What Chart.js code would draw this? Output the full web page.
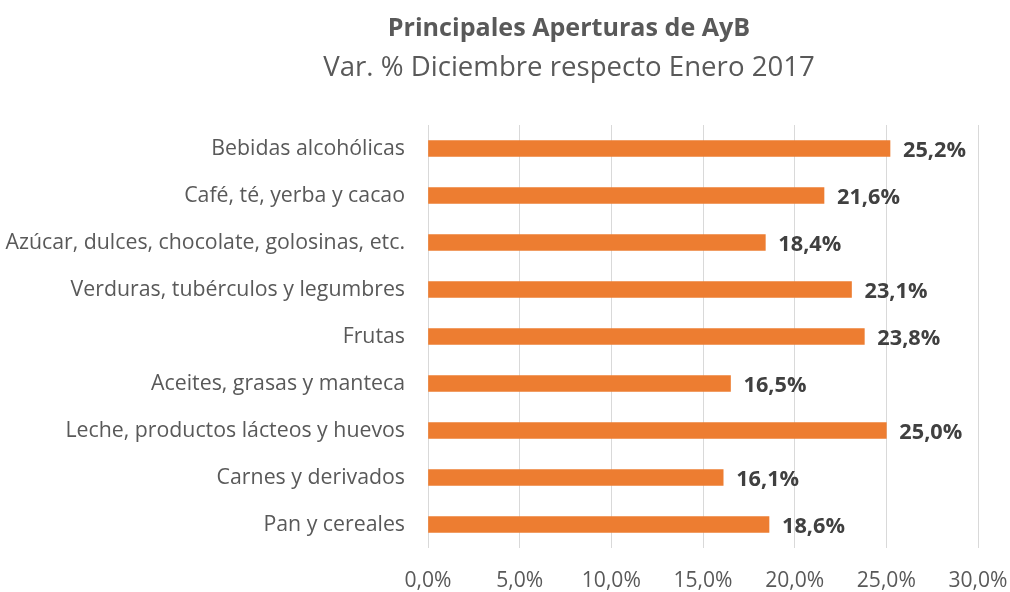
<!DOCTYPE html>
<html>
<head>
<meta charset="utf-8">
<script src="https://cdn.jsdelivr.net/npm/chart.js@4"></script>
<style>
html,body{margin:0;padding:0;background:#fff;}
#wrap{width:1010px;height:592px;}
</style>
</head>
<body>
<div id="wrap"><canvas id="c" width="1010" height="592"></canvas></div>
<script>
const categories = [
  "Bebidas alcohólicas",
  "Café, té, yerba y cacao",
  "Azúcar, dulces, chocolate, golosinas, etc.",
  "Verduras, tubérculos y legumbres",
  "Frutas",
  "Aceites, grasas y manteca",
  "Leche, productos lácteos y huevos",
  "Carnes y derivados",
  "Pan y cereales"
];
const values = [25.2, 21.6, 18.4, 23.1, 23.8, 16.5, 25.0, 16.1, 18.6];
const xTicks = [0, 5, 10, 15, 20, 25, 30];
const titleText = "Principales Aperturas de AyB";
const subtitleText = "Var. % Diciembre respecto Enero 2017";

const FONT = "Open Sans";
const fmt = v => v.toFixed(1).replace('.', ',') + '%';

// font sizes fitted so text widths match the reference layout
const mctx = document.createElement('canvas').getContext('2d');
function fitSize(text, target, weight) {
  mctx.font = weight + ' 100px "' + FONT + '"';
  return Math.round(100 * target / mctx.measureText(text).width * 10) / 10;
}
const catSize = fitSize(categories[2], 400, 'normal');
const tickSize = fitSize('0,0%', 47, 'normal');
const valSize = fitSize('25,2%', 63, 'bold');
const titleSize = fitSize(titleText, 362, 'bold');
const subSize = fitSize(subtitleText, 491, 'normal');

const AREA_TOP = 125, AREA_BOTTOM = 548, LEFT = 428, RIGHT_PAD = 32, TITLE_LEFT = 160;
const MID = 0.07; // cap-centre vs 'middle' baseline offset (em)
const titleLH = titleSize * 1.2, subLH = subSize * 1.2, tickLH = tickSize * 1.2;
const titleC = 27.5 + MID * titleSize;
const subC = 66 + MID * subSize;
const titlePadTop = titleC - titleLH / 2;
const subPadTop = subC - subLH / 2 - (titleC + titleLH / 2);
const subPadBottom = AREA_TOP - (subC + subLH / 2);
const xTickLen = (579.5 + MID * tickSize) - AREA_BOTTOM - tickLH / 2;
const bottomPad = 592 - (AREA_BOTTOM + xTickLen + tickLH);

const labelPlugin = {
  id: 'valueLabels',
  afterLayout(chart) {
    // centre the title block like the reference (over x 160..978)
    chart.boxes.forEach(b => {
      if (b.options && typeof b.options.text === 'string' && b.position === 'top') {
        b.left = TITLE_LEFT;
      }
    });
  },
  afterDatasetsDraw(chart) {
    const ctx = chart.ctx;
    const meta = chart.getDatasetMeta(0);
    ctx.save();
    ctx.font = 'bold ' + valSize + 'px "' + FONT + '"';
    ctx.fillStyle = '#404040';
    ctx.textAlign = 'left';
    ctx.textBaseline = 'middle';
    meta.data.forEach((bar, i) => {
      ctx.fillText(fmt(values[i]), bar.x + 13, bar.y + 0.5 + MID * valSize);
    });
    ctx.restore();
  }
};

new Chart(document.getElementById('c'), {
  type: 'bar',
  data: {
    labels: categories,
    datasets: [{
      data: values,
      backgroundColor: '#ED7D31',
      borderWidth: 0,
      barThickness: 16
    }]
  },
  options: {
    indexAxis: 'y',
    responsive: false,
    animation: false,
    layout: { padding: { left: 0, right: RIGHT_PAD, top: 0, bottom: bottomPad } },
    plugins: {
      legend: { display: false },
      tooltip: { enabled: false },
      title: {
        display: true,
        text: titleText,
        color: '#595959',
        font: { family: FONT, size: titleSize, weight: 'bold', lineHeight: 1.2 },
        padding: { top: titlePadTop, bottom: 0 }
      },
      subtitle: {
        display: true,
        text: subtitleText,
        color: '#595959',
        font: { family: FONT, size: subSize, weight: 'normal', lineHeight: 1.2 },
        padding: { top: subPadTop, bottom: subPadBottom }
      }
    },
    scales: {
      x: {
        type: 'linear',
        min: 0,
        max: 30,
        afterBuildTicks(scale) { scale.ticks = xTicks.map(v => ({ value: v })); },
        grid: { color: '#d9d9d9', lineWidth: 1, drawTicks: true, tickLength: xTickLen, tickColor: 'rgba(0,0,0,0)' },
        border: { display: false },
        ticks: {
          color: '#595959',
          font: { family: FONT, size: tickSize, lineHeight: 1.2 },
          padding: 0,
          maxRotation: 0,
          callback: v => fmt(v)
        }
      },
      y: {
        grid: { display: true, drawOnChartArea: false, drawTicks: true, tickLength: 23, tickColor: 'rgba(0,0,0,0)', color: 'rgba(0,0,0,0)' },
        border: { display: false },
        afterFit(scale) { scale.width = LEFT; },
        ticks: {
          color: '#595959',
          font: { family: FONT, size: catSize, lineHeight: 1.2 },
          padding: 0
        }
      }
    }
  },
  plugins: [labelPlugin]
});
</script>
</body>
</html>
